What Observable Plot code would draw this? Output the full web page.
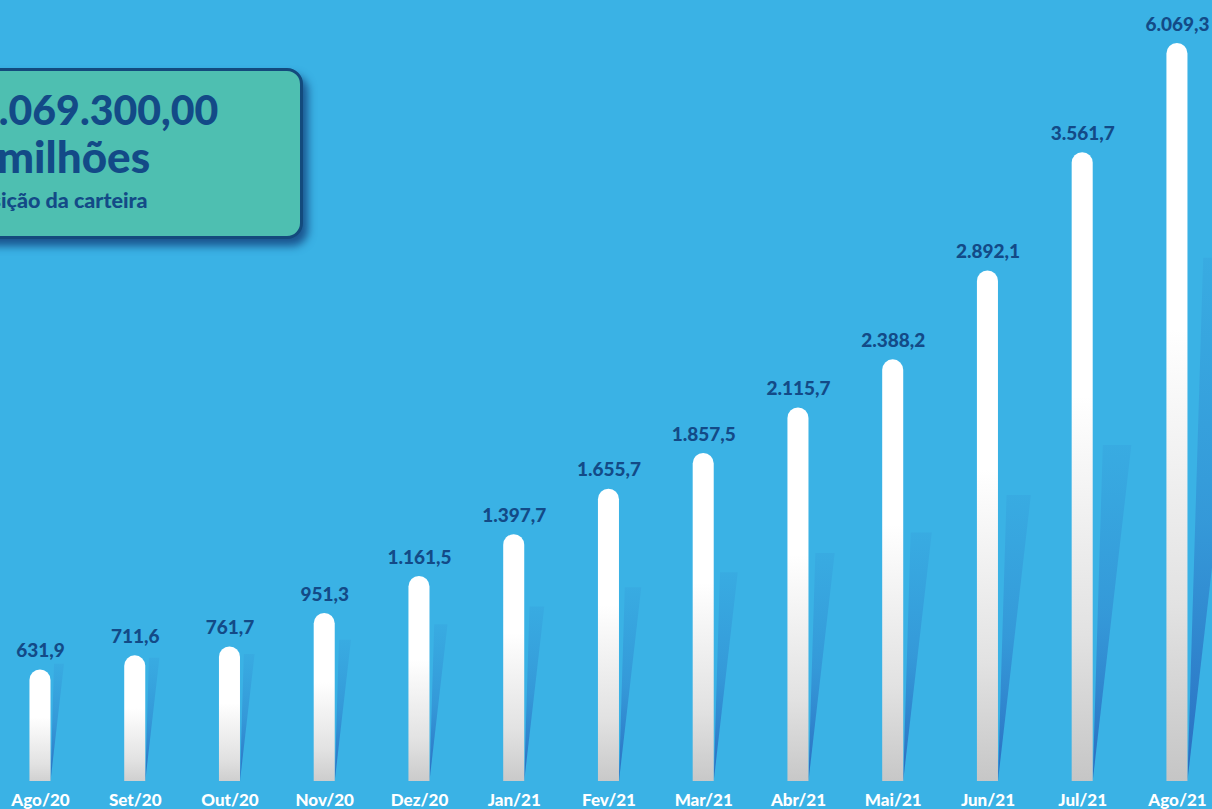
<!DOCTYPE html>
<html>
<head>
<meta charset="utf-8">
<script src="https://cdn.jsdelivr.net/npm/d3@7"></script>
<script src="https://cdn.jsdelivr.net/npm/@observablehq/plot@0.6"></script>
<style>
  html, body { margin: 0; padding: 0; background: #3ab2e5; overflow: hidden; }
  #wrap { position: relative; width: 1212px; height: 809px; background: #3ab2e5; font-family: Lato, "Open Sans", sans-serif; }
  #box { position: absolute; left: -30px; top: 68px; width: 327px; height: 165px;
         background: #4ebfb1; border: 3px solid #134a7d; border-radius: 16px;
         box-shadow: 5px 7px 9px rgba(16, 55, 115, 0.75); }
  .line { position: absolute; white-space: nowrap; color: #134a87; font-weight: 900; line-height: 1; }
</style>
</head>
<body>
<div id="wrap">
  <div id="chart"></div>
  <div id="box"></div>
  <div class="line" id="l1" style="left:-25px; top:89px; font-size:41px;">6.069.300,00</div>
  <div class="line" id="l2" style="left:-3px; top:134px; font-size:44px;">milhões</div>
  <div class="line" id="l3" style="left:-34px; top:190px; font-size:21.5px;">Posição da carteira</div>
</div>
<script>
const months = ["Ago/20","Set/20","Out/20","Nov/20","Dez/20","Jan/21","Fev/21","Mar/21","Abr/21","Mai/21","Jun/21","Jul/21","Ago/21"];
const values = [631.9, 711.6, 761.7, 951.3, 1161.5, 1397.7, 1655.7, 1857.5, 2115.7, 2388.2, 2892.1, 3561.7, 6069.3];

const fmt = d3.formatLocale({decimal: ",", thousands: ".", grouping: [3], currency: ["R$", ""]}).format(",.1f");

const data = months.map((m, i) => ({i, month: m, value: values[i]}));

// layout constants
const W = 1212, H = 809, mTop = 43, mBottom = 28;
const yMax = 4180;
const xDomain = [-0.422, 12.37];
const hw = 0.111; // half bar width in x units
const pxPerX = W / (xDomain[1] - xDomain[0]);
const pxPerY = (H - mTop - mBottom) / yMax;

// decorative shadow wedges derived from the values
const shadow = [];
for (const d of data) {
  const S = 0.423 * d.value + 397;
  const Spx = S * pxPerY;
  const xr = d.i + hw;
  shadow.push({i: d.i, y: 0, x1: xr, x2: xr});
  shadow.push({i: d.i, y: S, x1: xr + 0.03 * Spx / pxPerX, x2: xr + 0.115 * Spx / pxPerX});
}

const svg = Plot.plot({
  width: W,
  height: H,
  marginTop: mTop,
  marginBottom: mBottom,
  marginLeft: 0,
  marginRight: 0,
  style: {background: "transparent", fontFamily: "Lato, 'Open Sans', sans-serif", overflow: "visible"},
  x: {type: "linear", domain: xDomain, axis: null},
  y: {domain: [0, yMax], clamp: true, axis: null},
  marks: [
    Plot.areaX(shadow, {y: "y", x1: "x1", x2: "x2", z: "i", fill: "url(#shadowGrad)", curve: "linear"}),
    Plot.rectY(data, {x1: d => d.i - hw, x2: d => d.i + hw, y: "value", fill: "url(#barGrad)", rx: 10.5, insetBottom: -14, clip: true}),
    Plot.text(data, {x: "i", y: "value", text: d => fmt(d.value), dy: -19, fill: "#134a87", fontSize: 19, fontWeight: 900}),
    Plot.axisX({ticks: d3.range(months.length), tickFormat: i => months[i], tickSize: 0, tickPadding: 12, fontSize: 17, fontWeight: 900, fill: "white", stroke: null})
  ]
});

const defs = d3.select(svg).insert("defs", ":first-child");
const bg = defs.append("linearGradient").attr("id", "barGrad").attr("x1", 0).attr("y1", 0).attr("x2", 0).attr("y2", 1);
bg.append("stop").attr("offset", "0").attr("stop-color", "#ffffff");
bg.append("stop").attr("offset", "0.38").attr("stop-color", "#ffffff");
bg.append("stop").attr("offset", "0.75").attr("stop-color", "#e2e2e2");
bg.append("stop").attr("offset", "1").attr("stop-color", "#c3c3c3");
const sg = defs.append("linearGradient").attr("id", "shadowGrad").attr("x1", 0).attr("y1", 0).attr("x2", 0).attr("y2", 1);
sg.append("stop").attr("offset", "0").attr("stop-color", "#2f85cf").attr("stop-opacity", 0.15);
sg.append("stop").attr("offset", "0.5").attr("stop-color", "#2f80cc").attr("stop-opacity", 0.5);
sg.append("stop").attr("offset", "1").attr("stop-color", "#2a6cc0").attr("stop-opacity", 1);

document.getElementById("chart").appendChild(svg);
</script>
</body>
</html>
